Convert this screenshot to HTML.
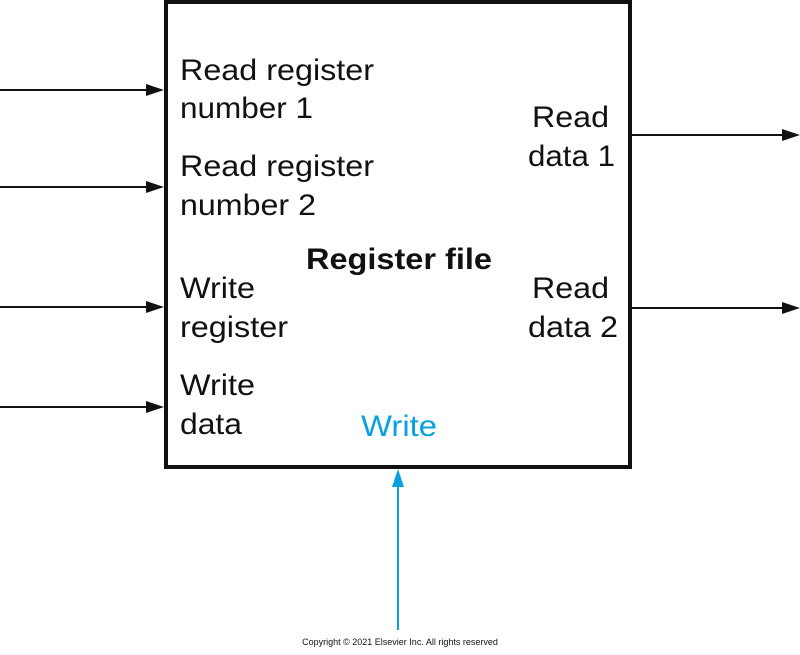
<!DOCTYPE html>
<html><head><style>body{margin:0;background:#fff}</style></head><body>
<svg width="800" height="650" viewBox="0 0 800 650" xmlns="http://www.w3.org/2000/svg" font-family="Liberation Sans, sans-serif">
<rect x="166" y="2" width="464" height="465" fill="#fff" stroke="#111" stroke-width="4"/>
<g stroke="#111" stroke-width="2">
<line x1="0" y1="90" x2="150" y2="90"/><line x1="0" y1="187" x2="150" y2="187"/>
<line x1="0" y1="307" x2="150" y2="307"/><line x1="0" y1="407" x2="150" y2="407"/>
<line x1="632" y1="135" x2="784" y2="135"/><line x1="632" y1="308" x2="784" y2="308"/>
</g>
<g fill="#111">
<polygon points="164,90 146,84 146,96"/><polygon points="164,187 146,181 146,193"/>
<polygon points="164,307 146,301 146,313"/><polygon points="164,407 146,401 146,413"/>
<polygon points="800,135 782,129 782,141"/><polygon points="800,308 782,302 782,314"/>
</g>
<line x1="398" y1="630" x2="398" y2="486" stroke="#0aa0e0" stroke-width="2"/>
<polygon points="398,469 392,487 404,487" fill="#0aa0e0"/>
<g font-size="30" fill="#111">
<text x="180" y="80" textLength="194" lengthAdjust="spacingAndGlyphs">Read register</text><text x="180" y="118" textLength="133" lengthAdjust="spacingAndGlyphs">number 1</text>
<text x="180" y="176" textLength="194" lengthAdjust="spacingAndGlyphs">Read register</text><text x="180" y="215" textLength="136" lengthAdjust="spacingAndGlyphs">number 2</text>
<text x="180" y="298" textLength="75" lengthAdjust="spacingAndGlyphs">Write</text><text x="180" y="337" textLength="108" lengthAdjust="spacingAndGlyphs">register</text>
<text x="180" y="395" textLength="75" lengthAdjust="spacingAndGlyphs">Write</text><text x="180" y="434" textLength="62" lengthAdjust="spacingAndGlyphs">data</text>
<text x="532" y="127" textLength="77" lengthAdjust="spacingAndGlyphs">Read</text><text x="528" y="166" textLength="87" lengthAdjust="spacingAndGlyphs">data 1</text>
<text x="532" y="298" textLength="77" lengthAdjust="spacingAndGlyphs">Read</text><text x="528" y="337" textLength="90" lengthAdjust="spacingAndGlyphs">data 2</text>
<text x="306" y="269" font-weight="bold" textLength="186" lengthAdjust="spacingAndGlyphs">Register file</text>
<text x="361" y="436" fill="#0aa0e0" textLength="76" lengthAdjust="spacingAndGlyphs">Write</text>
</g>
<text x="400" y="645" font-size="9" text-anchor="middle" fill="#111">Copyright © 2021 Elsevier Inc. All rights reserved</text>
</svg>
</body></html>
